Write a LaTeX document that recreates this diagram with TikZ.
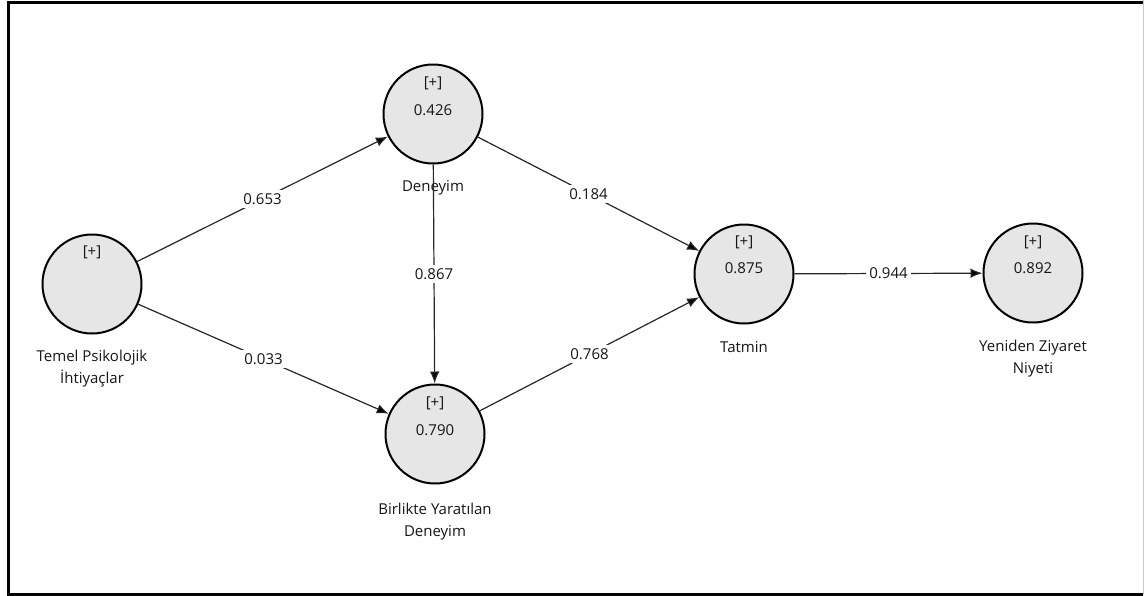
\documentclass[tikz,border=0pt]{standalone}
\usepackage{fontspec}
\setmainfont{Open Sans}
\usetikzlibrary{arrows.meta,calc}
\definecolor{nodefill}{HTML}{E6E6E6}
\definecolor{ink}{HTML}{151515}
\definecolor{edgegray}{HTML}{262626}
\definecolor{rimgray}{HTML}{C8C8C8}
\begin{document}
\begin{tikzpicture}[x=1pt,y=-1pt,
  latent/.style={circle,draw=black,line width=2pt,fill=nodefill,minimum size=99pt,inner sep=0pt},
  txt/.style={font=\fontsize{15}{22}\selectfont,text=ink,inner sep=0pt,align=center},
  relpath/.style={draw=edgegray,line width=1.2pt,-{Latex[length=12pt,width=9.5pt,fill=black]}},
  coef/.style={txt,fill=white,inner sep=3pt},
]
\useasboundingbox (0,0) rectangle (1144,595);

% outer frame
\draw[line width=3pt] (1143,2.5) -- (8.5,2.5) -- (8.5,594) -- (1143,594);
\draw[rimgray,line width=1pt] (1143.5,0) -- (1143.5,595);

% latent variables
\node[latent] (tpi) at (92,284) {};
\node[latent] (den) at (433,114) {};
\node[latent] (byd) at (435,434) {};
\node[latent] (tat) at (744,274) {};
\node[latent] (yzn) at (1033,273) {};

% names below the circles
\node[txt] (tpiname) at (92,369) {Temel Psikolojik\\İhtiyaçlar};
\node[txt] (denname) at (433,188) {Deneyim};
\node[txt] (bydname) at (435,522) {Birlikte Yaratılan\\Deneyim};
\node[txt] (tatname) at (744,347) {Tatmin};
\node[txt] (yznname) at (1033,359) {Yeniden Ziyaret\\Niyeti};

% indicator markers and R-squared values
\node[txt] (tpiplus) at ($(tpi)+(0,-32)$) {[+]};
\node[txt] (denplus) at ($(den)+(0,-31)$) {[+]};
\node[txt] (denr2) at ($(den)+(0,-4)$) {0.426};
\node[txt] (bydplus) at ($(byd)+(0,-31)$) {[+]};
\node[txt] (bydr2) at ($(byd)+(0,-4)$) {0.790};
\node[txt] (tatplus) at ($(tat)+(0,-32)$) {[+]};
\node[txt] (tatr2) at ($(tat)+(0,-6)$) {0.875};
\node[txt] (yznplus) at ($(yzn)+(0,-31)$) {[+]};
\node[txt] (yznr2) at ($(yzn)+(0,-5)$) {0.892};

% structural paths with coefficients
\draw[relpath] (tpi) -- node[coef] {0.653} (den);
\draw[relpath] (tpi) -- node[coef] {0.033} (byd);
\draw[relpath] (den) -- node[coef] {0.867} (byd);
\draw[relpath] (den) -- node[coef] {0.184} (tat);
\draw[relpath] (byd) -- node[coef] {0.768} (tat);
\draw[relpath] (tat) -- node[coef] {0.944} (yzn);
\end{tikzpicture}
\end{document}
